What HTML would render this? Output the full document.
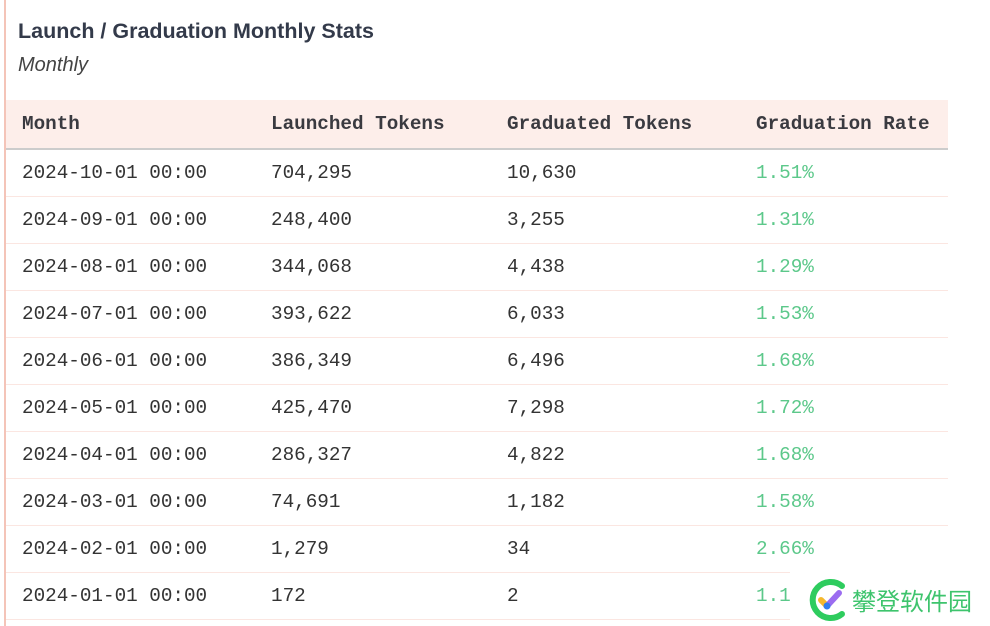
<!DOCTYPE html>
<html><head><meta charset="utf-8"><style>
body{margin:0;width:990px;height:626px;background:#fff;position:relative;overflow:hidden;font-family:"Liberation Sans",sans-serif;}
.bar{position:absolute;left:4px;top:0;width:2px;height:626px;background:#f4c4b8;}
.t{position:absolute;left:18px;top:19px;font-size:21.5px;font-weight:bold;color:#333a4a;}
.s{position:absolute;left:18px;top:54px;font-size:20px;font-style:italic;color:#444;}
table{position:absolute;left:6px;top:100px;width:942px;border-collapse:collapse;font-family:"Liberation Mono",monospace;font-size:19.3px;color:#333;}
th,td{padding:0;}
th{background:#fdeeea;height:48px;text-align:left;font-weight:bold;border-bottom:2px solid #ccc;color:#3a3a40;}
td{height:46px;border-bottom:1px solid #fbe6e1;}
th:first-child,td:first-child{padding-left:16px;width:249px;}
th:nth-child(2),td:nth-child(2){width:236px;}
th:nth-child(3),td:nth-child(3){width:249px;}
td.g{color:#5cc88a;}
.wm{position:absolute;left:790px;top:572px;width:200px;height:54px;background:#fff;}
.wmt{position:absolute;left:852px;top:585px;font-size:24px;color:#3ec46d;font-family:"Noto Sans CJK SC",sans-serif;line-height:30px;}
</style></head><body>
<div class="bar"></div>
<div class="t">Launch / Graduation Monthly Stats</div>
<div class="s">Monthly</div>
<table>
<tr><th>Month</th><th>Launched Tokens</th><th>Graduated Tokens</th><th>Graduation Rate</th></tr>
<tr><td>2024-10-01 00:00</td><td>704,295</td><td>10,630</td><td class="g">1.51%</td></tr>
<tr><td>2024-09-01 00:00</td><td>248,400</td><td>3,255</td><td class="g">1.31%</td></tr>
<tr><td>2024-08-01 00:00</td><td>344,068</td><td>4,438</td><td class="g">1.29%</td></tr>
<tr><td>2024-07-01 00:00</td><td>393,622</td><td>6,033</td><td class="g">1.53%</td></tr>
<tr><td>2024-06-01 00:00</td><td>386,349</td><td>6,496</td><td class="g">1.68%</td></tr>
<tr><td>2024-05-01 00:00</td><td>425,470</td><td>7,298</td><td class="g">1.72%</td></tr>
<tr><td>2024-04-01 00:00</td><td>286,327</td><td>4,822</td><td class="g">1.68%</td></tr>
<tr><td>2024-03-01 00:00</td><td>74,691</td><td>1,182</td><td class="g">1.58%</td></tr>
<tr><td>2024-02-01 00:00</td><td>1,279</td><td>34</td><td class="g">2.66%</td></tr>
<tr><td>2024-01-01 00:00</td><td>172</td><td>2</td><td class="g">1.1</td></tr>
</table>
<div class="wm"></div>
<svg style="position:absolute;left:806px;top:578px" width="44" height="44" viewBox="0 0 44 44">
<path d="M36 8 A18 18 0 1 0 36 36" fill="none" stroke="#2ecc5e" stroke-width="6" stroke-linecap="round"/>
<path d="M15 22 L21 28" stroke="#f5b82e" stroke-width="6" stroke-linecap="round"/>
<path d="M21 28 L33 15" stroke="#9b6cf0" stroke-width="6" stroke-linecap="round"/>
<circle cx="21" cy="28" r="3.5" fill="#2f7cf0"/>
</svg>
<div class="wmt">攀登软件园</div>
</body></html>
